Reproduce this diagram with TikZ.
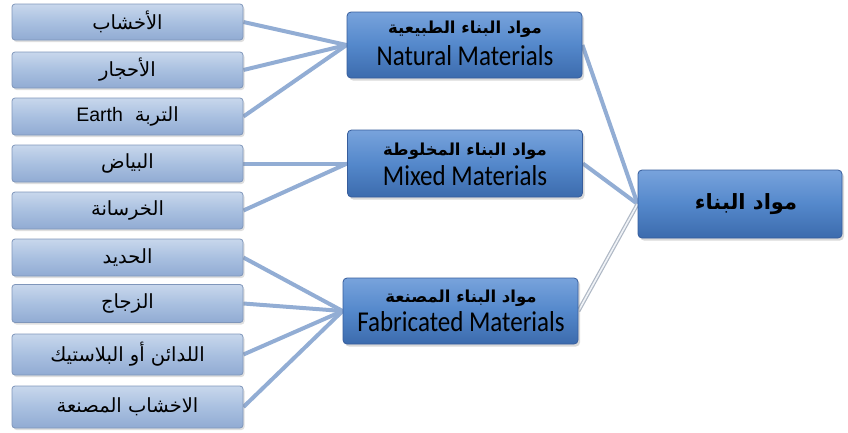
\documentclass[tikz,border=0pt]{standalone}
\usepackage{fontspec}
\setmainfont{Liberation Sans}
\newfontfamily\arabicfont[Script=Arabic]{DejaVu Sans}
\newfontfamily\calfont{Carlito}
\TeXXeTstate=1
\usetikzlibrary{shadows,backgrounds}

\definecolor{leaftop}{HTML}{C8D7EC}
\definecolor{leafmid}{HTML}{A9C0E0}
\definecolor{leafbot}{HTML}{91ABD3}
\definecolor{leafedge}{HTML}{7F96BA}
\definecolor{grouptop}{HTML}{78A3DC}
\definecolor{groupmid}{HTML}{5488CB}
\definecolor{groupbot}{HTML}{3C6BAD}
\definecolor{groupedge}{HTML}{375D9C}
\definecolor{linkblue}{HTML}{92ADD4}
\definecolor{paleedge}{HTML}{AFB8C5}
\definecolor{palecoreclr}{HTML}{F0F3F7}

\newcommand\artext[1]{{\arabicfont\beginR #1\endR}}

\begin{document}
\begin{tikzpicture}[x=1pt,y=-1pt,
  leafbox/.style={rounded corners=3pt, draw=leafedge, line width=0.8pt,
    top color=leaftop, bottom color=leafbot, middle color=leafmid,
    minimum width=231pt, minimum height=37pt, inner sep=0pt,
    drop shadow={shadow xshift=1.5pt, shadow yshift=-2pt, opacity=0.25},
    font=\fontsize{19.5}{22}\selectfont},
  groupbox/.style={rounded corners=4pt, draw=groupedge, line width=0.8pt,
    top color=grouptop, bottom color=groupbot, middle color=groupmid,
    minimum width=235pt, minimum height=66pt, inner sep=0pt,
    drop shadow={shadow xshift=2pt, shadow yshift=-2.5pt, opacity=0.3}},
  grouptitle/.style={inner sep=0pt, font=\fontsize{16.5}{19}\bfseries\selectfont},
  groupname/.style={inner sep=0pt, yscale=1.15, transform shape,
    font=\fontsize{25}{28}\calfont\selectfont},
  link/.style={draw=linkblue, line width=4pt},
  palelink/.style={draw=paleedge, line width=4pt},
  palecore/.style={draw=palecoreclr, line width=1.6pt}
]
\useasboundingbox (0,0) rectangle (848,432);

% leaf materials
\node[leafbox, minimum height=36pt] (l1) at (127.5,22) {\artext{الأخشاب}};
\node[leafbox, minimum height=36pt] (l2) at (127.5,70) {\artext{الأحجار}};
\node[leafbox] (l3) at (127.5,116.5) {Earth\hspace{12pt}\artext{التربة}};
\node[leafbox] (l4) at (127.5,163.5) {\artext{البياض}};
\node[leafbox] (l5) at (127.5,210.5) {\artext{الخرسانة}};
\node[leafbox] (l6) at (127.5,257.5) {\artext{الحديد}};
\node[leafbox, minimum height=38pt] (l7) at (127.5,303.5) {\artext{الزجاج}};
\node[leafbox, minimum height=41pt] (l8) at (127.5,354.5) {\artext{اللدائن أو البلاستيك}};
\node[leafbox, minimum height=42pt] (l9) at (127.5,407) {\artext{الاخشاب المصنعة}};

% group nodes
\node[groupbox] (nat) at (464.5,45) {};
\node[grouptitle] (natar) at (465,29) {\artext{مواد البناء الطبيعية}};
\node[groupname] (naten) at (465,56) {Natural Materials};

\node[groupbox, minimum height=67pt] (mix) at (465,163.5) {};
\node[grouptitle] (mixar) at (465,151.5) {\artext{مواد البناء المخلوطة}};
\node[groupname] (mixen) at (465,176) {Mixed Materials};

\node[groupbox, minimum height=66pt] (fab) at (460.5,311) {};
\node[grouptitle] (fabar) at (461,298.5) {\artext{مواد البناء المصنعة}};
\node[groupname] (faben) at (461,322) {Fabricated Materials};

% root node
\node[groupbox, minimum width=204pt, minimum height=68pt,
      font=\fontsize{21}{24}\bfseries\selectfont] (root) at (740,204)
  {\hspace{12pt}\artext{مواد البناء}};

% connectors, drawn beneath the boxes
\begin{pgfonlayer}{background}
  \foreach \leaf in {l1,l2,l3} \draw[link] (\leaf.east) -- (nat.west);
  \foreach \leaf in {l4,l5} \draw[link] (\leaf.east) -- (mix.west);
  \foreach \leaf in {l6,l7,l8,l9} \draw[link] (\leaf.east) -- (fab.west);
  \draw[link] (nat.east) -- (root.west);
  \draw[link] (mix.east) -- (root.west);
  \draw[palelink] (fab.east) -- (root.west);
  \draw[palecore] (fab.east) -- (root.west);
\end{pgfonlayer}
\end{tikzpicture}
\end{document}
